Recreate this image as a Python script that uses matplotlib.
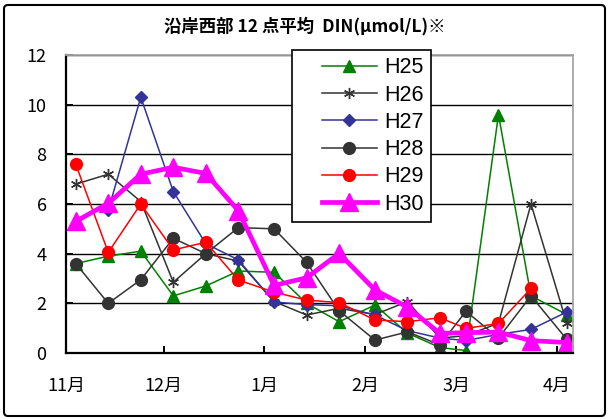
import datetime
import matplotlib
matplotlib.use("Agg")
import matplotlib.pyplot as plt
import matplotlib.dates as mdates
from matplotlib.lines import Line2D
from matplotlib.legend_handler import HandlerLine2D
from matplotlib.patches import FancyBboxPatch
import numpy as np

nan = np.nan

# sampling days (month-day), shared by every season
sample_days = ["11-04", "11-14", "11-24", "12-04", "12-14", "12-24",
               "01-04", "01-14", "01-24", "02-04", "02-14", "02-24",
               "03-04", "03-14", "03-24", "04-04"]

h25 = [3.6, 3.9, 4.1, 2.3, 2.7, 3.3, 3.25, 2.0, 1.26, 1.93, 0.8, 0.22, 0.1, 9.6, 2.3, 1.55]
h26 = [6.8, 7.2, 6.1, 2.85, 4.0, 3.7, 2.07, 1.53, 1.8, 1.55, 2.07, 0.6, 0.7, 1.2, 6.0, 1.2]
h27 = [nan, 5.75, 10.3, 6.5, 4.4, 3.75, 2.05, 1.95, 1.9, 1.53, 0.9, 0.6, 0.5, 0.75, 0.95, 1.65]
h28 = [3.6, 2.0, 2.95, 4.62, 4.0, 5.05, 5.0, 3.65, 1.7, 0.52, 0.85, 0.33, 1.68, 0.6, 2.3, 0.55]
h29 = [7.6, 4.05, 6.0, 4.15, 4.46, 2.94, 2.45, 2.13, 2.03, 1.33, 1.26, 1.42, 0.99, 1.19, 2.6, nan]
h30 = [5.3, 6.03, 7.2, 7.48, 7.23, 5.73, 2.72, 3.03, 4.01, 2.54, 1.85, 0.79, 0.82, 0.84, 0.5, 0.42]

series_names = ["H25", "H26", "H27", "H28", "H29", "H30"]
series_values = [h25, h26, h27, h28, h29, h30]

title = "沿岸西部 12 点平均  DIN(μmol/L)※"

jp_font = ["Noto Sans CJK JP", "DejaVu Sans"]


def to_date(md):
    m, d = int(md[:2]), int(md[3:])
    return datetime.datetime(2000 if m >= 11 else 2001, m, d)


x = [to_date(d) for d in sample_days]

# style per series: color, marker, marker size, line width
styles = {
    "H25": dict(color="#008000", marker="^", ms=9, lw=1.1),
    "H26": dict(color="#333333", marker=(6, 2, 0), ms=8, lw=1.1, mew=1.0),
    "H27": dict(color="#333399", marker="D", ms=6.5, lw=1.1),
    "H28": dict(color="#333333", marker="o", ms=8.5, lw=1.1),
    "H29": dict(color="#ff0000", marker="o", ms=8.5, lw=1.1),
    "H30": dict(color="#ff00ff", marker="^", ms=12.5, lw=3.4),
}


class OffsetLine(HandlerLine2D):
    # legend line that starts a bit to the right of the handle box
    def get_xdata(self, legend, xdescent, ydescent, width, height, fontsize):
        x0 = -xdescent + 1.06 * fontsize
        x1 = -xdescent + width
        return [x0, x1], [(x0 + x1) / 2]


fig = plt.figure(figsize=(6.09, 4.19), dpi=100)
ax = fig.add_axes([66 / 609, 1 - 353 / 419, (573 - 66) / 609, (353 - 55) / 419])

for name, vals in zip(series_names, series_values):
    st = styles[name]
    ax.plot(x, vals, color=st["color"], marker=st["marker"], markersize=st["ms"],
            linewidth=st["lw"], markeredgewidth=st.get("mew", 1.0),
            markeredgecolor=st["color"], markerfacecolor=st["color"], label=name)

ax.set_ylim(0, 12)
ax.set_yticks(np.arange(0, 13, 2))
ax.set_xlim(datetime.datetime(2000, 11, 1), datetime.datetime(2001, 4, 5, 22))
ax.xaxis.set_major_locator(mdates.MonthLocator())
ax.xaxis.set_major_formatter(
    plt.FuncFormatter(lambda v, p: f"{mdates.num2date(v).month}月"))

ax.yaxis.grid(True, color="black", linewidth=1.0)
ax.set_axisbelow(True)

ax.tick_params(axis="both", direction="in", length=5, width=1.4, color="black",
               labelsize=13)
ax.tick_params(axis="y", pad=14)
ax.tick_params(axis="x", pad=17)
for lab in ax.get_xticklabels() + ax.get_yticklabels():
    lab.set_family(jp_font)

for side in ["left", "bottom"]:
    ax.spines[side].set_color("black")
    ax.spines[side].set_linewidth(1.6)
for side in ["top", "right"]:
    ax.spines[side].set_color("#a6a6a6")
    ax.spines[side].set_linewidth(1.3)

leg = ax.legend(loc="upper left", bbox_to_anchor=(292 / 609, 1 - 50 / 419),
                bbox_transform=fig.transFigure, borderaxespad=0,
                handler_map={Line2D: OffsetLine()},
                prop={"family": "Liberation Sans", "size": 15.5},
                handlelength=3.6, handletextpad=0.33, borderpad=0.34,
                labelspacing=0.29, fancybox=False, framealpha=1,
                edgecolor="black")
leg.get_frame().set_linewidth(1.2)

fig.text(305 / 609, 1 - 26 / 419, title, ha="center", va="center",
         fontsize=12.5, fontweight="bold", family=jp_font)

# outer chart border
fig.add_artist(FancyBboxPatch((0.04, 0.03), 6.01, 4.11,
                              boxstyle="round,pad=0,rounding_size=0.04",
                              transform=fig.dpi_scale_trans, fill=False,
                              edgecolor="black", linewidth=1.5))

fig.savefig("out.png", dpi=100)
